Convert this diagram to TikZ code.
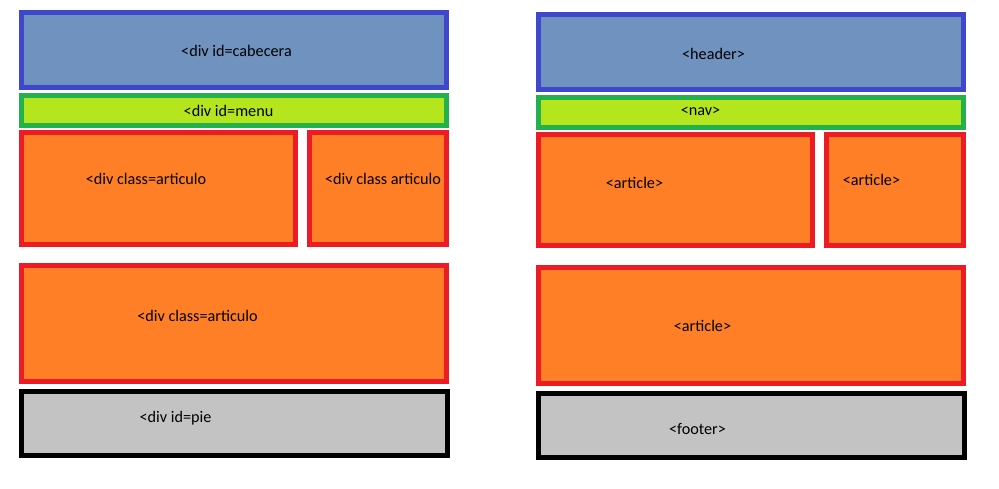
\documentclass[tikz,border=0pt]{standalone}
\usepackage{fontspec}
\setmainfont{Carlito}
\definecolor{hdrfill}{HTML}{7092BE}
\definecolor{hdrline}{HTML}{3F48CC}
\definecolor{navfill}{HTML}{B5E61D}
\definecolor{navline}{HTML}{22B14C}
\definecolor{artfill}{HTML}{FF7F27}
\definecolor{artline}{HTML}{ED1C24}
\definecolor{piefill}{HTML}{C3C3C3}
\begin{document}
\begin{tikzpicture}[x=1pt,y=-1pt,
  box/.style={draw, line width=5pt, inner sep=0pt, shape=rectangle},
  hdr/.style={box, fill=hdrfill, draw=hdrline},
  navb/.style={box, fill=navfill, draw=navline},
  art/.style={box, fill=artfill, draw=artline},
  foot/.style={box, fill=piefill, draw=black},
  lbl/.style={inner sep=0pt, font=\fontsize{16.2}{19}\selectfont, text=black}]
\useasboundingbox (0,0) rectangle (999,489);
% left column
\node[hdr, minimum width=425pt, minimum height=75pt] (cab) at (234,50) {};
\node[navb, minimum width=425pt, minimum height=30pt] (menu) at (234,110.5) {};
\node[art, minimum width=274pt, minimum height=112pt] (la1) at (158.5,188.5) {};
\node[art, minimum width=137pt, minimum height=112pt] (la2) at (378,188.5) {};
\node[art, minimum width=425pt, minimum height=116pt] (la3) at (234,323.5) {};
\node[foot, minimum width=426pt, minimum height=64pt] (pie) at (234.5,423.5) {};
\node[lbl] (tcab) at (236.5,51) {<div id=cabecera};
\node[lbl] (tmenu) at (228.5,111) {<div id=menu};
\node[lbl] (tla1) at (146,179) {<div class=articulo};
\node[lbl] (tla2) at (383,179) {<div class articulo};
\node[lbl] (tla3) at (197.5,316) {<div class=articulo};
\node[lbl] (tpie) at (175.5,418) {<div id=pie};
% right column
\node[hdr, minimum width=425pt, minimum height=75pt] (header) at (751,52) {};
\node[navb, minimum width=425pt, minimum height=30pt] (nav) at (751,112.5) {};
\node[art, minimum width=274pt, minimum height=111pt] (ra1) at (675.5,190) {};
\node[art, minimum width=137pt, minimum height=111pt] (ra2) at (895,190) {};
\node[art, minimum width=425pt, minimum height=116pt] (ra3) at (751,325.5) {};
\node[foot, minimum width=426pt, minimum height=64pt] (footer) at (751.5,425.5) {};
\node[lbl] (theader) at (713.5,54) {<header>};
\node[lbl] (tnav) at (700.5,111) {<nav>};
\node[lbl] (tra1) at (634.5,183) {<article>};
\node[lbl] (tra2) at (871.5,180) {<article>};
\node[lbl] (tra3) at (702.5,326) {<article>};
\node[lbl] (tfooter) at (697.5,429) {<footer>};
\end{tikzpicture}
\end{document}
